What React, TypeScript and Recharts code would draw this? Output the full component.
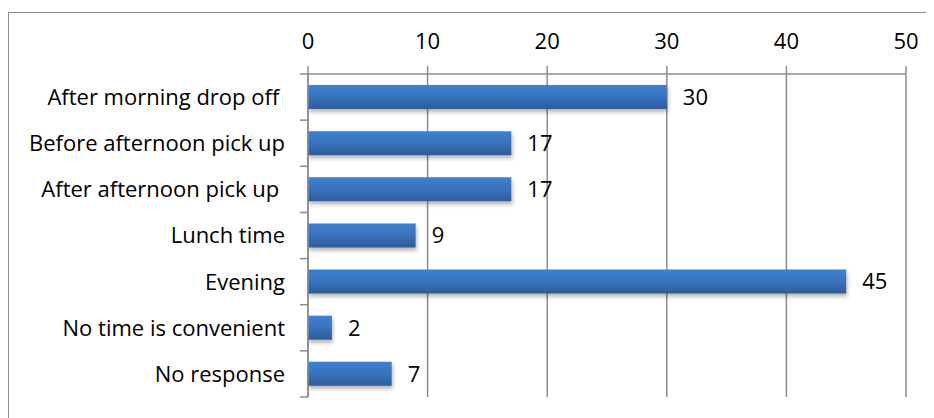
import { BarChart, Bar, XAxis, YAxis, CartesianGrid, LabelList } from "recharts";

const categories = [
  "After morning drop off ",
  "Before afternoon pick up",
  "After afternoon pick up ",
  "Lunch time",
  "Evening",
  "No time is convenient",
  "No response",
];
const counts = [30, 17, 17, 9, 45, 2, 7];
const xTicks = [0, 10, 20, 30, 40, 50];

const data = categories.map((category, i) => ({ category, count: counts[i] }));

const FONT = "'Open Sans', Lato, sans-serif";
const FONT_SIZE = 22;
const AXIS_GRAY = "#8c8c8c";
const PLOT_TOP = 66;
const PLOT_BOTTOM = 389;
const BAND = (PLOT_BOTTOM - PLOT_TOP) / categories.length;

// category ticks sit on band edges, like Excel does it
const CategoryTick = (props: any) => {
  const { x, y, payload, index } = props;
  const last = index === categories.length - 1;
  return (
    <g>
      <line x1={x - 8} x2={x} y1={y - BAND / 2} y2={y - BAND / 2} stroke={AXIS_GRAY} strokeWidth={1.5} />
      {last && (
        <line x1={x - 8} x2={x} y1={y + BAND / 2} y2={y + BAND / 2} stroke={AXIS_GRAY} strokeWidth={1.5} />
      )}
      <text
        x={x - 23}
        y={y}
        dy="0.36em"
        textAnchor="end"
        fill="#000"
        fontSize={FONT_SIZE}
        fontFamily={FONT}
        style={{ whiteSpace: "pre" }}
      >
        {payload.value}
      </text>
    </g>
  );
};

const App = () => {
  return (
    <div style={{ position: "relative", width: 926, height: 410, overflow: "hidden" }}>
      <div
        style={{
          position: "absolute",
          left: 0,
          top: 4,
          width: 940,
          height: 420,
          borderLeft: "1.5px solid #8c8c8c",
          borderTop: "1.5px solid #8c8c8c",
        }}
      />
      <div style={{ position: "absolute", left: 0, top: 0 }}>
        <BarChart
          layout="vertical"
          width={926}
          height={410}
          data={data}
          margin={{ top: 0, right: 28, bottom: 21, left: 0 }}
        >
          <defs>
            <linearGradient id="barGrad" x1="0" y1="0" x2="0" y2="1">
              <stop offset="0%" stopColor="#3f80cf" />
              <stop offset="50%" stopColor="#3872bd" />
              <stop offset="100%" stopColor="#2c5c9a" />
            </linearGradient>
            <filter id="barShadow" x="-5%" y="-20%" width="115%" height="170%">
              <feDropShadow dx="1" dy="3" stdDeviation="2" floodColor="#000" floodOpacity="0.3" />
            </filter>
          </defs>
          <CartesianGrid horizontal={false} stroke={AXIS_GRAY} strokeWidth={1.5} />
          <XAxis
            type="number"
            orientation="top"
            domain={[0, 50]}
            ticks={xTicks}
            height={66}
            axisLine={{ stroke: AXIS_GRAY, strokeWidth: 1.5 }}
            tickLine={{ stroke: AXIS_GRAY, strokeWidth: 1.5 }}
            tickSize={8}
            tickMargin={17}
            tick={{ fill: "#000", fontSize: FONT_SIZE, fontFamily: FONT }}
          />
          <YAxis
            type="category"
            dataKey="category"
            width={300}
            axisLine={{ stroke: AXIS_GRAY, strokeWidth: 1.5 }}
            tickLine={false}
            tickSize={0}
            tickMargin={0}
            tick={<CategoryTick />}
            interval={0}
          />
          <Bar
            dataKey="count"
            barSize={24}
            fill="url(#barGrad)"
            filter="url(#barShadow)"
            isAnimationActive={false}
          >
            <LabelList
              dataKey="count"
              position="right"
              offset={16}
              fill="#000"
              fontSize={FONT_SIZE}
              fontFamily={FONT}
            />
          </Bar>
        </BarChart>
      </div>
    </div>
  );
};

export default App;
